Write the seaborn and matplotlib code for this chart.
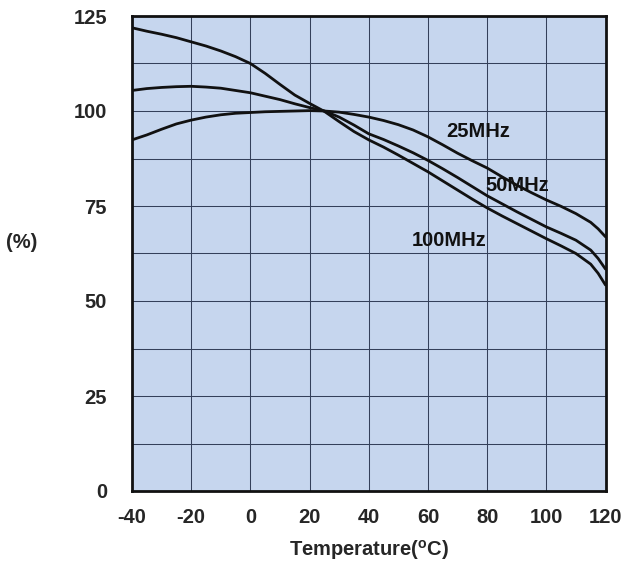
import matplotlib
matplotlib.use("Agg")
import matplotlib.pyplot as plt
import seaborn as sns
import pandas as pd

temps = [-40, -35, -30, -25, -20, -15, -10, -5, 0, 5, 10, 15, 20, 25, 30, 35, 40,
         45, 50, 55, 60, 65, 70, 75, 80, 85, 90, 95, 100, 105, 110, 115, 117.5, 120]
pct_25mhz = [92.4, 93.7, 95.2, 96.6, 97.6, 98.4, 99.0, 99.4, 99.6, 99.8, 99.9, 100.0, 100.1, 100.0, 99.7, 99.1, 98.4,
             97.5, 96.4, 95.0, 93.2, 91.1, 88.9, 86.9, 85.0, 82.7, 80.5, 78.5, 76.6, 74.9, 73.0, 70.7, 69.0, 66.9]
pct_50mhz = [105.4, 105.9, 106.2, 106.4, 106.5, 106.3, 106.0, 105.4, 104.8, 103.9, 103.0, 101.9, 100.9, 100.0, 98.4, 96.3, 94.0,
             92.5, 90.8, 89.0, 87.0, 84.8, 82.5, 80.1, 77.7, 75.6, 73.5, 71.5, 69.5, 67.8, 66.0, 63.4, 61.2, 58.4]
pct_100mhz = [121.9, 121.0, 120.2, 119.3, 118.2, 117.1, 115.8, 114.3, 112.5, 109.9, 107.0, 104.2, 102.0, 99.9, 97.2, 94.6, 92.4,
              90.5, 88.4, 86.2, 84.0, 81.6, 79.2, 76.8, 74.5, 72.4, 70.4, 68.4, 66.4, 64.5, 62.5, 59.7, 57.3, 54.2]
series_names = ["25MHz", "50MHz", "100MHz"]
label_pos = {"25MHz": (77, 94.6), "50MHz": (90.2, 80.5), "100MHz": (67, 66.0)}
x_ticks = [-40, -20, 0, 20, 40, 60, 80, 100, 120]
y_ticks = [0, 25, 50, 75, 100, 125]

rows = []
for name, vals in zip(series_names, [pct_25mhz, pct_50mhz, pct_100mhz]):
    for t, v in zip(temps, vals):
        rows.append({"Temperature": t, "Percent": v, "Freq": name})
df = pd.DataFrame(rows)

sns.set_style("white", {"axes.facecolor": "#C6D6EE"})
plt.rcParams["font.family"] = ["Liberation Sans", "DejaVu Sans"]
plt.rcParams["font.weight"] = "bold"
plt.rcParams["axes.unicode_minus"] = False

fig = plt.figure(figsize=(6.21, 5.63), dpi=100)
ax = fig.add_axes([132/621, 1 - 491/563, (605.5-132)/621, (491-16)/563])

sns.lineplot(data=df, x="Temperature", y="Percent", hue="Freq",
             palette={n: "#111111" for n in series_names}, linewidth=2.0,
             legend=False, ax=ax, estimator=None, zorder=3)

ax.set_xlim(-40, 120)
ax.set_ylim(0, 125)
ax.set_xticks(x_ticks)
ax.set_yticks(y_ticks)
ax.set_yticks([i * 12.5 for i in range(11)], minor=True)
ax.grid(True, which="both", color="#34405a", linewidth=0.75)
ax.set_axisbelow(True)
ax.tick_params(axis="both", which="both", length=0, labelsize=14.5)
ax.tick_params(axis="y", pad=18)
ax.tick_params(axis="x", pad=12)
for lbl in ax.get_xticklabels() + ax.get_yticklabels():
    lbl.set_fontweight("bold")

for s in ax.spines.values():
    s.set_visible(True)
    s.set_color("#111111")
    s.set_linewidth(2.0)

for name, (lx, ly) in label_pos.items():
    ax.text(lx, ly, name, ha="center", va="center", fontsize=14.5,
            fontweight="bold", color="#111111", zorder=4)

ax.set_xlabel("Temperature($^\\mathregular{o}$C)", fontsize=14.5, fontweight="bold", labelpad=8)
ax.set_ylabel("")
fig.text(22/621, 1 - 242/563, "(%)", ha="center", va="center", fontsize=14.5, fontweight="bold")

fig.savefig("out.png", dpi=100)
